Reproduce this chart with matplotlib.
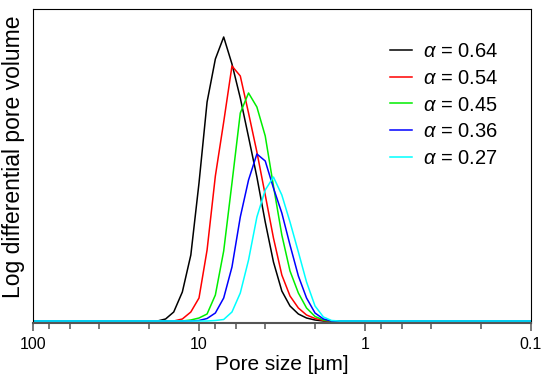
import numpy as np
import matplotlib
matplotlib.use("Agg")
import matplotlib.pyplot as plt

plt.rcParams['font.family'] = ['Liberation Sans', 'DejaVu Sans']
plt.rcParams['mathtext.fontset'] = 'custom'
plt.rcParams['mathtext.it'] = 'Liberation Sans:italic'
plt.rcParams['mathtext.rm'] = 'Liberation Sans'

# pore size [um] (same points for every curve)
pore_size = [100, 17.8, 15.9, 14.2, 12.6, 11.2, 10.0, 8.94, 7.97, 7.10, 6.33, 5.64,
             5.03, 4.48, 3.99, 3.56, 3.17, 2.83, 2.52, 2.25, 2.00, 1.78, 1.59,
             1.42, 0.1]

v064 = [0, 0, 0.02, 0.09, 0.29, 0.66, 1.38, 2.19, 2.62, 2.84, 2.57, 2.23,
        1.84, 1.44, 0.99, 0.59, 0.30, 0.15, 0.07, 0.03, 0.01, 0, 0, 0, 0]
v054 = [0, 0, 0, 0, 0.02, 0.09, 0.23, 0.71, 1.45, 1.99, 2.55, 2.45,
        2.08, 1.69, 1.26, 0.83, 0.46, 0.25, 0.13, 0.06, 0.025, 0.005, 0, 0, 0]
v045 = [0, 0, 0, 0, 0, 0.01, 0.03, 0.07, 0.26, 0.70, 1.38, 2.08,
        2.28, 2.14, 1.85, 1.35, 0.86, 0.50, 0.28, 0.13, 0.045, 0.01, 0, 0, 0]
v036 = [0, 0, 0, 0, 0, 0, 0.005, 0.025, 0.08, 0.23, 0.54, 1.04,
        1.41, 1.67, 1.60, 1.33, 1.08, 0.76, 0.45, 0.23, 0.08, 0.02, 0, 0, 0]
v027 = [0, 0, 0, 0, 0, 0, 0, 0, 0.005, 0.015, 0.09, 0.28,
        0.61, 1.04, 1.31, 1.44, 1.26, 0.99, 0.69, 0.39, 0.15, 0.04, 0.005, 0, 0]

series = [v064, v054, v045, v036, v027]
labels = [r'$\alpha$ = 0.64', r'$\alpha$ = 0.54', r'$\alpha$ = 0.45',
          r'$\alpha$ = 0.36', r'$\alpha$ = 0.27']
colors = ['black', 'red', '#00ee00', 'blue', 'cyan']

major_ticks = [100, 10, 1, 0.1]
major_labels = ['100', '10', '1', '0.1']
minor_ticks = [80, 60, 40, 20, 8, 6, 4, 2, 0.8, 0.6, 0.4, 0.2]

fig = plt.figure(figsize=(5.5, 3.84), dpi=100)
ax = fig.add_axes([33 / 550, 1 - 323 / 384, 498 / 550, 314 / 384])

for vals, lab, col in zip(series, labels, colors):
    ax.plot(pore_size, vals, color=col, lw=1.1, label=lab)

ax.set_xscale('log')
ax.set_xlim(100, 0.1)
ax.set_ylim(-0.02, 3.12)
ax.set_xticks(major_ticks)
ax.set_xticklabels(major_labels)
ax.set_xticks(minor_ticks, minor=True)
ax.tick_params(axis='x', which='minor', labelbottom=False)
ax.tick_params(axis='x', which='major', length=6, width=1.1, color='#555555',
               labelsize=11.5, pad=4)
ax.tick_params(axis='x', which='minor', length=4, width=1.1, color='#555555')
ax.set_yticks([])

for s in ['left', 'top', 'right']:
    ax.spines[s].set_linewidth(0.8)
ax.spines['bottom'].set_color('#555555')
ax.spines['bottom'].set_linewidth(1.5)

ax.set_xlabel('Pore size [μm]', fontsize=15, labelpad=2)
ax.set_ylabel('Log differential pore volume', fontsize=16.5)
ax.yaxis.set_label_coords(-0.017, 0.53)

ax.legend(loc='upper right', frameon=False, fontsize=14.5, handlelength=1.1,
          handletextpad=0.55, labelspacing=0.38, bbox_to_anchor=(0.97, 0.952))

fig.savefig('out.png', dpi=100)
